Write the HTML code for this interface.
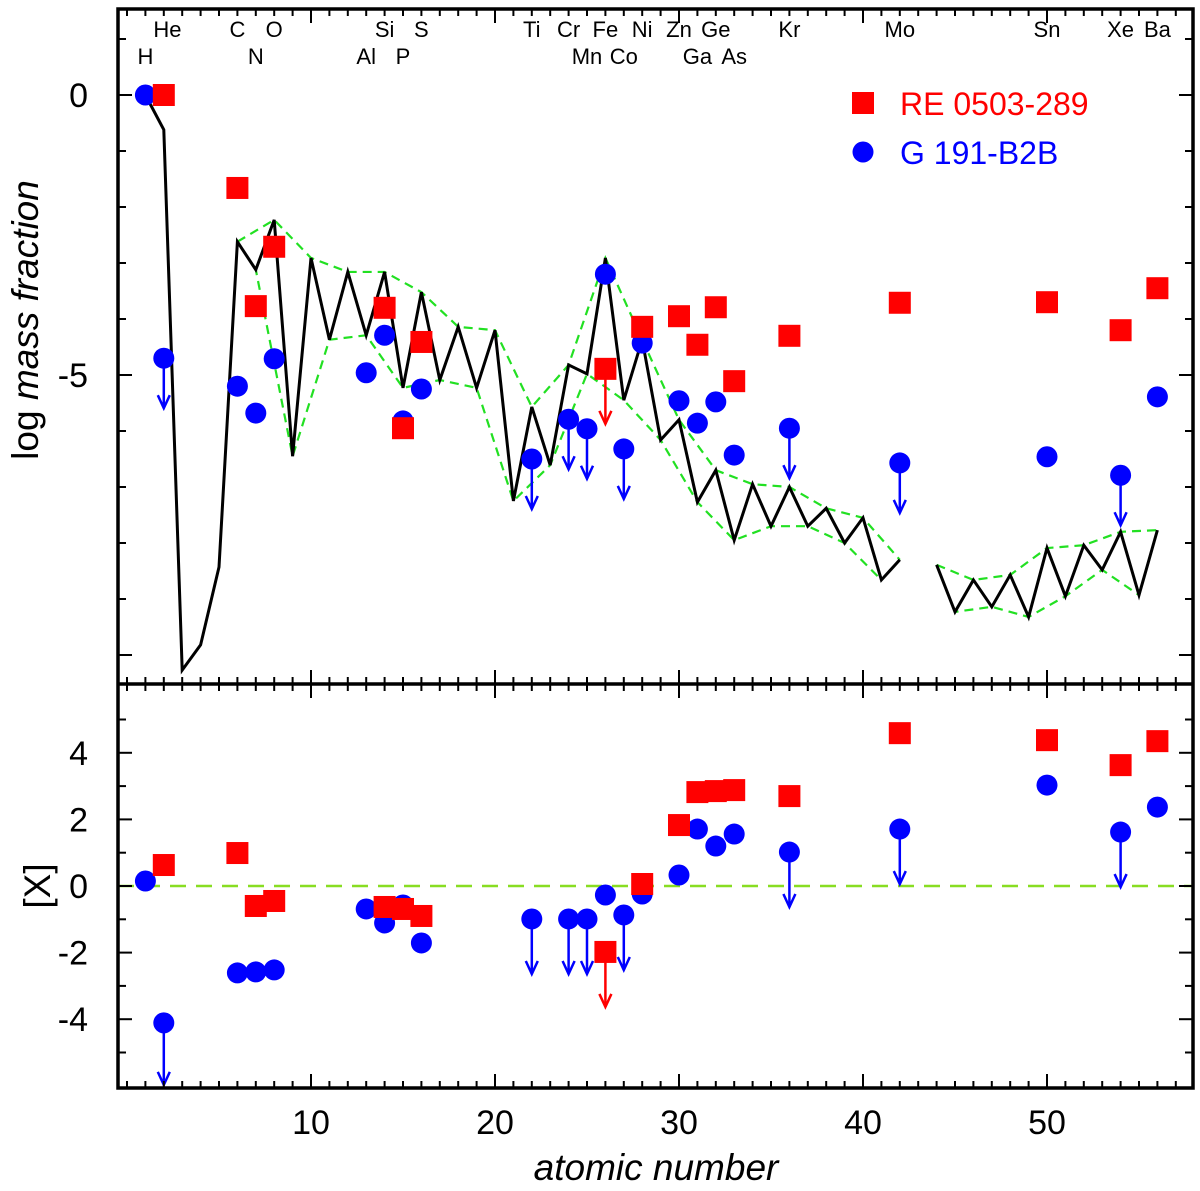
<!DOCTYPE html>
<html><head><meta charset="utf-8"><style>
body{margin:0;background:#fff;}
svg{display:block;font-family:"Liberation Sans",sans-serif;}
</style></head><body>
<svg id="chart" width="1200" height="1191" viewBox="0 0 1200 1191" xmlns="http://www.w3.org/2000/svg"></svg>
<script>
// ---- data ----
const solarZ1 = [1,2,3,4,5,6,7,8,9,10,11,12,13,14,15,16,17,18,19,20,21,22,23,24,25,26,27,28,29,30,31,32,33,34,35,36,37,38,39,40,41,42];
const solarV1 = [0,-0.62,-10.27,-9.82,-8.43,-2.62,-3.12,-2.23,-6.45,-2.91,-4.37,-3.16,-4.29,-3.16,-5.23,-3.52,-5.09,-4.14,-5.23,-4.2,-7.25,-5.57,-6.61,-4.82,-4.98,-2.91,-5.45,-4.37,-6.16,-5.8,-7.27,-6.7,-7.95,-6.95,-7.7,-7.0,-7.7,-7.38,-8.0,-7.55,-8.66,-8.3];
const solarZ2 = [44,45,46,47,48,49,50,51,52,53,54,55,56];
const solarV2 = [-8.39,-9.23,-8.66,-9.14,-8.57,-9.32,-8.09,-8.95,-8.04,-8.48,-7.8,-8.93,-7.77];
const upperZ1 = [6,8,10,12,14,16,18,20,22,24,26,28,30,32,34,36,38,40,42];
const lowerZ1 = [6,7,9,11,13,15,17,19,21,23,25,27,29,31,33,35,37,39,41,42];
const upperZ2 = [44,46,48,50,52,54,56];
const lowerZ2 = [44,45,47,49,51,53,55,56];
const reZ = [2,6,7,8,14,15,16,26,28,30,31,32,33,36,42,50,54,56];
const reTop = [0,-1.66,-3.77,-2.71,-3.8,-5.95,-4.41,-4.89,-4.14,-3.95,-4.46,-3.79,-5.11,-4.3,-3.71,-3.7,-4.2,-3.45];
const reBot = [0.63,0.99,-0.6,-0.45,-0.63,-0.69,-0.9,-1.98,0.06,1.83,2.82,2.85,2.88,2.7,4.59,4.38,3.63,4.35];
const reLim = [26];
const gZ = [1,2,6,7,8,13,14,15,16,22,24,25,26,27,28,30,31,32,33,36,42,50,54,56];
const gTop = [0,-4.7,-5.2,-5.68,-4.71,-4.96,-4.29,-5.82,-5.25,-6.5,-5.79,-5.96,-3.2,-6.32,-4.43,-5.46,-5.86,-5.48,-6.43,-5.95,-6.57,-6.46,-6.79,-5.39];
const gBot = [0.15,-4.11,-2.61,-2.58,-2.52,-0.69,-1.11,-0.57,-1.71,-0.99,-0.99,-0.99,-0.27,-0.87,-0.24,0.33,1.71,1.2,1.56,1.02,1.71,3.03,1.62,2.37];
const gLim = [2,22,24,25,27,36,42,54];
const labRow1 = ["He","C","O","Si","S","Ti","Cr","Fe","Ni","Zn","Ge","Kr","Mo","Sn","Xe","Ba"];
const labRow1Z = [2.2,6,8,14,16,22,24,26,28,30,32,36,42,50,54,56];
const labRow2 = ["H","N","Al","P","Mn","Co","Ga","As"];
const labRow2Z = [1,7,13,15,25,27,31,33];
const topTicks = [0,-5,-10];
const topLabels = ["0","-5",""];
const botTicks = [4,2,0,-2,-4];
const xTicks = [10,20,30,40,50];

// ---- axes ----
const L=118,R=1193,T=9,MID=684,B=1088;
const X=z=>127+z*18.4;
const YT=v=>95-v*56;
const YB=v=>886-v*33.3;
const svg=document.getElementById('chart');
const NS='http://www.w3.org/2000/svg';
function mk(tag,attrs,parent){const e=document.createElementNS(NS,tag);for(const k in attrs)e.setAttribute(k,attrs[k]);(parent||svg).appendChild(e);return e;}

function poly(zs,vals,style,name){
  const pts=zs.map((z,i)=>X(z)+','+YT(vals[i])).join(' ');
  const p=mk('polyline',Object.assign({points:pts,fill:'none'},style));
  
  
}
function solarVal(z){let i=solarZ1.indexOf(z);if(i>=0)return solarV1[i];i=solarZ2.indexOf(z);return solarV2[i];}
const gs={stroke:'#22e022','stroke-width':2.2,'stroke-dasharray':'9,6'};
poly(upperZ1,upperZ1.map(solarVal),gs,'upper-envelope');
poly(lowerZ1,lowerZ1.map(solarVal),gs,'lower-envelope');
poly(upperZ2,upperZ2.map(solarVal),gs,'upper-envelope-2');
poly(lowerZ2,lowerZ2.map(solarVal),gs,'lower-envelope-2');
poly(solarZ1,solarV1,{stroke:'#000','stroke-width':3,'stroke-linejoin':'miter'},'solar-line');
poly(solarZ2,solarV2,{stroke:'#000','stroke-width':3},'solar-line-2');

const zl=mk('line',{x1:L,x2:R,y1:YB(0),y2:YB(0),stroke:'#88dd22','stroke-width':2.5,'stroke-dasharray':'16,10'});



function arrow(x,y,len,col){
  const g=mk('g',{});
  
  
  mk('line',{x1:x,x2:x,y1:y,y2:y+len,stroke:col,'stroke-width':2.5},g);
  mk('polyline',{points:(x-6)+','+(y+len-13)+' '+x+','+(y+len)+' '+(x+6)+','+(y+len-13),fill:'none',stroke:col,'stroke-width':2.5},g);
}
function square(x,y,name){const s=mk('rect',{x:x-11,y:y-11,width:22,height:22,fill:'#ff0000'});
  }
function circ(x,y,name){const c=mk('circle',{cx:x,cy:y,r:10.5,fill:'#0000ff'});
  }

gZ.forEach((z,i)=>{ if(gLim.includes(z)){arrow(X(z),YT(gTop[i]),50,'#0000ff');arrow(X(z),YB(gBot[i]),z===2?62:55,'#0000ff');} });
reZ.forEach((z,i)=>{ if(reLim.includes(z)){arrow(X(z),YT(reTop[i]),55,'#ff0000');arrow(X(z),YB(reBot[i]),55,'#ff0000');} });
gZ.forEach((z,i)=>{circ(X(z),YT(gTop[i]),'g191-point-top');circ(X(z),YB(gBot[i]),'g191-point-bottom');});
reZ.forEach((z,i)=>{square(X(z),YT(reTop[i]),'re0503-point-top');square(X(z),YB(reBot[i]),'re0503-point-bottom');});

const fr=mk('rect',{x:L,y:T,width:R-L,height:B-T,fill:'none',stroke:'#000','stroke-width':3.5});

mk('line',{x1:L,x2:R,y1:MID,y2:MID,stroke:'#000','stroke-width':3.5});

const tg=mk('g',{stroke:'#000','stroke-width':2});

for(let v=1;v>=-10;v--){const y=YT(v);const l=topTicks.includes(v)?14:8;
  mk('line',{x1:L,x2:L+l,y1:y,y2:y},tg);mk('line',{x1:R,x2:R-l,y1:y,y2:y},tg);}
for(let v=5;v>=-5;v--){const y=YB(v);const l=botTicks.includes(v)?14:8;
  mk('line',{x1:L,x2:L+l,y1:y,y2:y},tg);mk('line',{x1:R,x2:R-l,y1:y,y2:y},tg);}
for(let z=0;z<=57;z++){const x=X(z);if(x<L+2||x>R-2)continue;const l=xTicks.includes(z)?14:7;
  [T,MID].forEach(y=>mk('line',{x1:x,x2:x,y1:y,y2:y+l},tg));
  [MID,B].forEach(y=>mk('line',{x1:x,x2:x,y1:y,y2:y-l},tg));}

function text(x,y,s,attrs,name){const t=mk('text',Object.assign({x:x,y:y},attrs));t.textContent=s;
  return t;}
topTicks.forEach((v,i)=>text(88,YT(v)+12,topLabels[i],{'font-size':34,'text-anchor':'end'},'y-tick-label'));
botTicks.forEach(v=>text(88,YB(v)+12,String(v),{'font-size':34,'text-anchor':'end'},'y-tick-label-bottom'));
xTicks.forEach(v=>text(X(v),1134,String(v),{'font-size':34,'text-anchor':'middle'},'x-tick-label'));
labRow1.forEach((s,i)=>text(X(labRow1Z[i]),37,s,{'font-size':22,'text-anchor':'middle'},'element-label'));
labRow2.forEach((s,i)=>text(X(labRow2Z[i]),64,s,{'font-size':22,'text-anchor':'middle'},'element-label'));
const yl=text(0,0,'',{'font-size':37,'text-anchor':'middle',transform:'translate(38,320) rotate(-90)'},'y-axis-title');
yl.innerHTML='log <tspan font-style="italic">mass fraction</tspan>';
text(38,886,'[X]',{'font-size':37,'text-anchor':'middle',transform:'rotate(-90 38 886)',dy:12},'y-axis-title-bottom');
text(656,1180,'atomic number',{'font-size':37,'text-anchor':'middle','font-style':'italic'},'x-axis-title');

const lg=mk('g',{});
mk('rect',{x:852,y:92,width:22,height:22,fill:'#ff0000'},lg);
mk('circle',{cx:863,cy:152,r:10.5,fill:'#0000ff'},lg);
text(900,115,'RE 0503-289',{'font-size':32,fill:'#ff0000'},'legend-entry-re0503');
text(900,164,'G 191-B2B',{'font-size':32,fill:'#0000ff'},'legend-entry-g191');
</script>
</body></html>
